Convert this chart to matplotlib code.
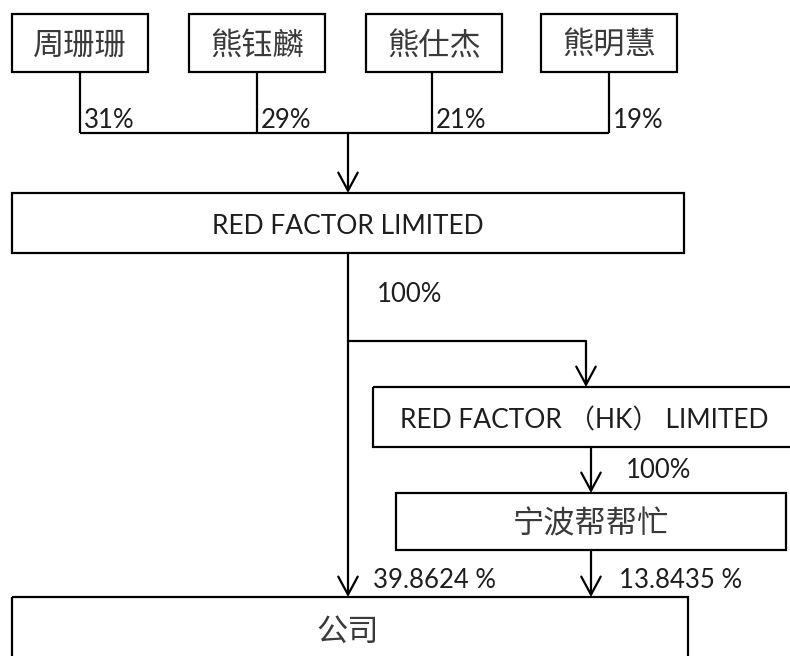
import matplotlib.pyplot as plt
from matplotlib.patches import Rectangle

plt.rcParams['font.family'] = ['Noto Sans CJK SC', 'DejaVu Sans']

# shareholders and their stakes in RED FACTOR LIMITED
holders = ['周珊珊', '熊钰麟', '熊仕杰', '熊明慧']
holder_pct = ['31%', '29%', '21%', '19%']
# downstream entities
parent = 'RED FACTOR LIMITED'
hk_co = 'RED FACTOR （HK） LIMITED'
nb_co = '宁波帮帮忙'
target = '公司'
parent_to_hk = '100%'
hk_to_nb = '100%'
parent_to_target = '39.8624 %'
nb_to_target = '13.8435 %'

W, H = 790, 656
fig = plt.figure(figsize=(W / 100, H / 100), dpi=100)
ax = fig.add_axes([0, 0, 1, 1])
ax.set_xlim(0, W)
ax.set_ylim(H, 0)
ax.axis('off')

lw = 1.6
txt_col = '#1e1e1e'
cjk_col = '#3a3a3a'
lat = ['Lato', 'Noto Sans CJK SC']
cjk_size = 22.5
lat_size = 19
pct_size = 18.5


def box(x0, y0, x1, y1, label, size, family=None, color=cjk_col, dy=3):
    ax.add_patch(Rectangle((x0, y0), x1 - x0, y1 - y0, fill=False,
                           edgecolor='black', lw=lw, clip_on=False))
    kw = {}
    if family:
        kw['family'] = family
    else:
        kw['fontweight'] = 'light'
    ax.text((x0 + x1) / 2, (y0 + y1) / 2 + dy, label, ha='center', va='center',
            fontsize=size, color=color, **kw)


def line(xs, ys):
    ax.plot(xs, ys, color='black', lw=lw, solid_capstyle='butt')


def arrow(x, y0, y1):
    ax.annotate('', xy=(x, y1), xytext=(x, y0),
                arrowprops=dict(arrowstyle='->, head_length=1.3, head_width=0.7',
                                color='black', lw=lw, shrinkA=0, shrinkB=0))


def pct(x, y, s):
    ax.text(x, y, s, ha='left', va='center', fontsize=pct_size,
            color=txt_col, family=lat)


# top row of shareholders
tops = [(12, 148), (189, 325), (366, 502), (541, 677)]
stems = [80, 257, 432, 609]
for (x0, x1), s, name, p in zip(tops, stems, holders, holder_pct):
    box(x0, 14, x1, 72, name, cjk_size)
    line([s, s], [72, 133])
    pct(s + 4, 120, p)
line([stems[0], stems[-1]], [133, 133])
arrow(348, 133, 193)

# RED FACTOR LIMITED
box(12, 193, 684, 253, parent, lat_size, lat, txt_col, dy=4)
line([348, 348], [253, 341])
pct(377, 295, parent_to_hk)
arrow(348, 341, 597)
line([348, 586], [341, 341])
arrow(586, 341, 387)

# HK company
box(373, 387, 795, 447, hk_co, lat_size, lat, txt_col, dy=4)
arrow(591, 447, 493)
pct(626, 471, hk_to_nb)

# Ningbo company
box(396, 493, 786, 550, nb_co, cjk_size)
arrow(591, 550, 597)

pct(373, 580, parent_to_target)
pct(619, 580, nb_to_target)

# target company
box(12, 597, 688, 700, '', cjk_size)
ax.text(348, 632, target, ha='center', va='center', fontsize=cjk_size,
        color=cjk_col, fontweight='light')

fig.savefig('out.png', dpi=100)
